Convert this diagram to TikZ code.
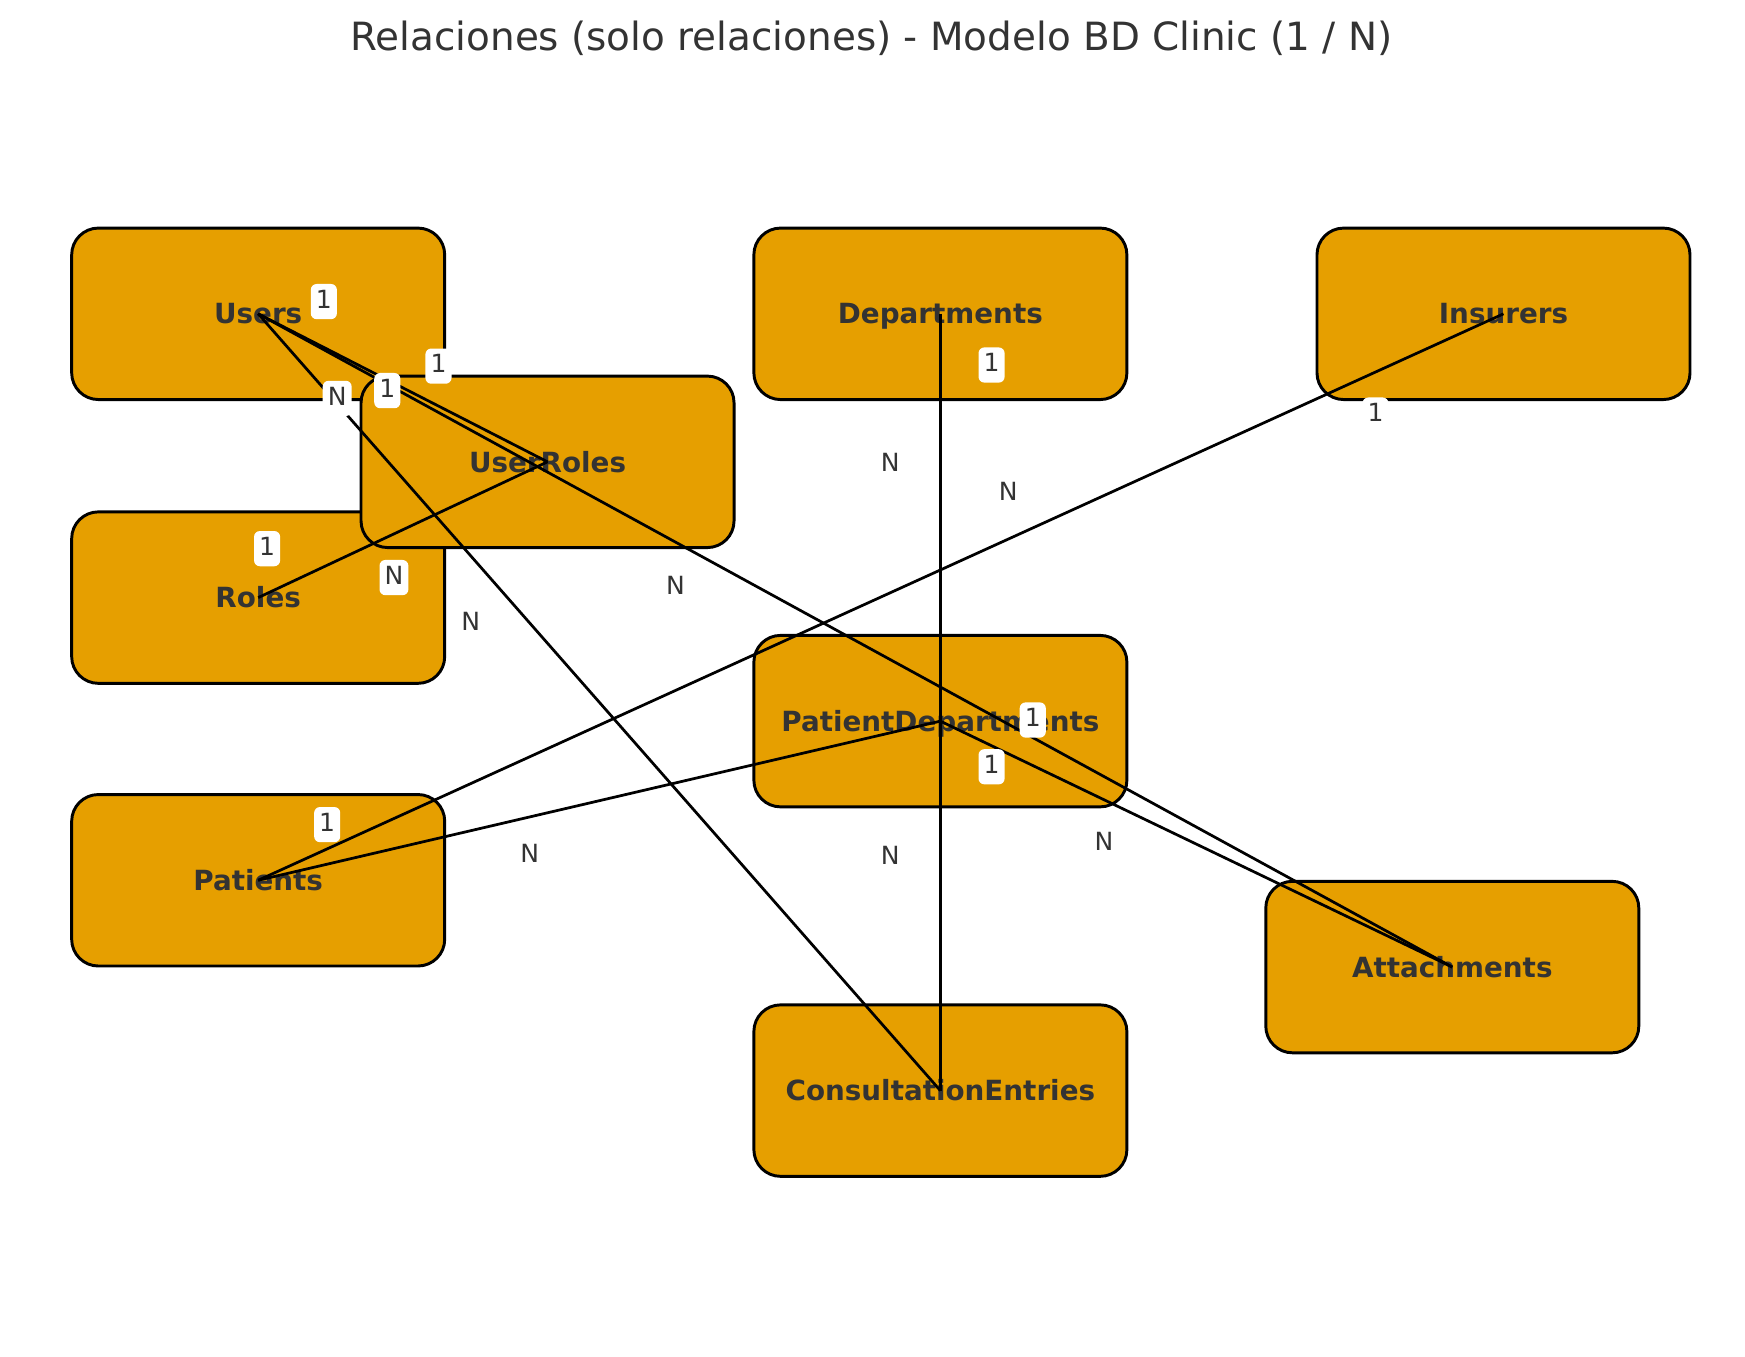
\documentclass[tikz,border=0pt]{standalone}
\usepackage{fontspec}
\setmainfont{DejaVu Sans}
\usepackage{tikz}
\definecolor{boxorange}{HTML}{E69F00}
\definecolor{inkgray}{HTML}{333333}
\tikzset{
entity/.style={draw=black, line width=0.75pt, fill=boxorange,
  rounded corners=0.24cm, minimum width=3.35cm, minimum height=1.54cm,
  inner sep=0pt, text=inkgray, font=\fontsize{7.1}{8}\selectfont\bfseries,
  text height=5.2pt, text depth=0pt},
rel/.style={line width=0.7pt, black},
card/.style={fill=white, rounded corners=1.5pt, inner sep=1.3pt,
  text=inkgray, font=\fontsize{6.4}{7}\selectfont,
  text height=4.9pt, text depth=1.5pt},
}

\begin{document}
\begin{tikzpicture}[x=0.01cm, y=-0.01cm]
\useasboundingbox (0,0) rectangle (1568,1219);
\node[anchor=base, text=inkgray, font=\fontsize{9.94}{12}\selectfont]
  (title) at (783,45.5) {Relaciones (solo relaciones) - Modelo BD Clinic (1 / N)};

% блоки
\node[entity] (users) at (232,282) {Users};
\node[entity] (roles) at (232,537) {Roles};
\node[entity] (userroles) at (492,415) {UserRoles};
\node[entity] (departments) at (845,282) {Departments};
\node[entity] (insurers) at (1351,282) {Insurers};
\node[entity] (patdeps) at (845,648) {PatientDepartments};
\node[entity] (patients) at (232,791) {Patients};
\node[entity] (attachments) at (1305,869) {Attachments};
\node[entity] (entries) at (845,980) {ConsultationEntries};

% связи
\draw[rel] (users.center) -- (userroles.center);
\draw[rel] (roles.center) -- (userroles.center);
\draw[rel] (users.center) -- (entries.center);
\draw[rel] (users.center) -- (attachments.center);
\draw[rel] (departments.center) -- (patdeps.center);
\draw[rel] (departments.center) -- (entries.center);
\draw[rel] (insurers.center) -- (patients.center);
\draw[rel] (patients.center) -- (patdeps.center);
\draw[rel] (patdeps.center) -- (attachments.center);

% подписи 1 / N
\node[card] (one1) at (291,271) {1};
\node[card] (one2) at (394,329) {1};
\node[card] (one3) at (348,351) {1};
\node[card] (many1) at (303,358) {N};
\node[card] (one4) at (240,493) {1};
\node[card] (many2) at (354,519) {N};
\node[card] (many3) at (423,561) {N};
\node[card] (many4) at (607,528) {N};
\node[card] (many5) at (800,418) {N};
\node[card] (one5) at (891,328) {1};
\node[card] (many6) at (906,444) {N};
\node[card] (one6) at (1236,373) {1};
\node[card] (one7) at (928,647) {1};
\node[card] (one8) at (891,689) {1};
\node[card] (one9) at (294,741) {1};
\node[card] (many7) at (476,769) {N};
\node[card] (many8) at (800,771) {N};
\node[card] (many9) at (992,758) {N};
\end{tikzpicture}
\end{document}
